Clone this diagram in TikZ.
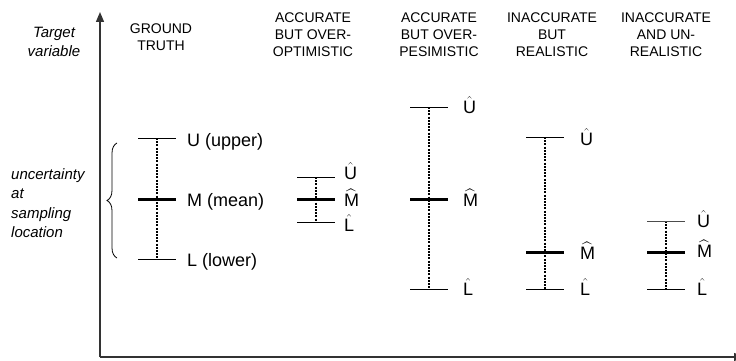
\documentclass[tikz,border=0pt]{standalone}
\usepackage{amsmath}
\usepackage{fontspec}
\setmainfont{Liberation Sans}
\usetikzlibrary{arrows.meta,positioning,decorations.pathreplacing}

\begin{document}
\begin{tikzpicture}[x=1pt,y=-1pt,
  axis/.style={line width=1.4pt,black!80,-{Triangle[length=10pt,width=8pt]}},
  limbar/.style={line width=1pt},
  meanbar/.style={line width=3pt},
  whisker/.style={line width=1.1pt,dash pattern=on 2pt off 1.2pt},
  head/.style={font=\fontsize{14}{17}\selectfont,align=center,inner sep=0pt,anchor=north},
  lab/.style={font=\fontsize{18}{21}\selectfont,inner sep=0pt,anchor=base west},
  note/.style={font=\fontsize{15}{19.5}\selectfont\itshape,inner sep=0pt,anchor=north}
]
\useasboundingbox (0,0) rectangle (736,361);

%--- axes ---
\coordinate (origin) at (100,357);
\coordinate (ytip) at (100,12);
\coordinate (xtip) at (744,357);
\draw[axis] (origin) -- (ytip);
\draw[axis] (origin) -- (xtip);
\node[note,align=center] (tv) at (54,26.5) {Target\\variable};
\node[note,align=left,anchor=north west] (unc) at (11,168) {uncertainty\\at\\sampling\\location};
\draw[line width=0.8pt,decorate,decoration={brace,amplitude=10pt}] (117,258) -- (117,143);

%--- headings ---
\node[head] (hgt)  at (161,24) {GROUND\\TRUTH};
\node[head] (hopt) at (313,12.5) {ACCURATE\\BUT OVER-\\OPTIMISTIC};
\node[head] (hpes) at (439,12.5) {ACCURATE\\BUT OVER-\\PESIMISTIC};
\node[head] (hrea) at (552,12.5) {INACCURATE\\BUT\\REALISTIC};
\node[head] (hunr) at (666,12.5) {INACCURATE\\AND UN-\\REALISTIC};

%--- ground truth ---
\begin{scope}[shift={(157,0)}]
  \coordinate (gtU) at (0,138);
  \coordinate (gtM) at (0,199);
  \coordinate (gtL) at (0,259);
  \draw[whisker] (gtU) -- (gtL);
  \draw[limbar] ([xshift=-19pt]gtU) -- ([xshift=19pt]gtU);
  \draw[meanbar] ([xshift=-19pt]gtM) -- ([xshift=19pt]gtM);
  \draw[limbar] ([xshift=-19pt]gtL) -- ([xshift=19pt]gtL);
  \node[lab] (gtu) at (30,146.5) {U (upper)};
  \node[lab] (gtm) at (30,206) {M (mean)};
  \node[lab] (gtl) at (30,266) {L (lower)};
\end{scope}

%--- accurate but over-optimistic ---
\begin{scope}[shift={(316,0)}]
  \coordinate (opU) at (0,177);
  \coordinate (opM) at (0,199);
  \coordinate (opL) at (0,222);
  \draw[whisker] (opU) -- (opL);
  \draw[limbar] ([xshift=-19pt]opU) -- ([xshift=19pt]opU);
  \draw[meanbar] ([xshift=-19pt]opM) -- ([xshift=19pt]opM);
  \draw[limbar] ([xshift=-19pt]opL) -- ([xshift=19pt]opL);
  \node[lab] (opu) at (28,179) {$\hat{\text{U}}$};
  \node[lab] (opm) at (28,206) {$\widehat{\text{M}}$};
  \node[lab] (opl) at (28,231.5) {$\hat{\text{L}}$};
\end{scope}

%--- accurate but over-pesimistic ---
\begin{scope}[shift={(429,0)}]
  \coordinate (peU) at (0,107);
  \coordinate (peM) at (0,199);
  \coordinate (peL) at (0,289);
  \draw[whisker] (peU) -- (peL);
  \draw[limbar] ([xshift=-19pt]peU) -- ([xshift=19pt]peU);
  \draw[meanbar] ([xshift=-19pt]peM) -- ([xshift=19pt]peM);
  \draw[limbar] ([xshift=-19pt]peL) -- ([xshift=19pt]peL);
  \node[lab] (peu) at (34,113) {$\hat{\text{U}}$};
  \node[lab] (pem) at (34,206) {$\widehat{\text{M}}$};
  \node[lab] (pel) at (34,295) {$\hat{\text{L}}$};
\end{scope}

%--- inaccurate but realistic ---
\begin{scope}[shift={(545,0)}]
  \coordinate (reU) at (0,137);
  \coordinate (reM) at (0,252);
  \coordinate (reL) at (0,289);
  \draw[whisker] (reU) -- (reL);
  \draw[limbar] ([xshift=-19pt]reU) -- ([xshift=19pt]reU);
  \draw[meanbar] ([xshift=-19pt]reM) -- ([xshift=19pt]reM);
  \draw[limbar] ([xshift=-19pt]reL) -- ([xshift=19pt]reL);
  \node[lab] (reu) at (35,145) {$\hat{\text{U}}$};
  \node[lab] (rem) at (35,259) {$\widehat{\text{M}}$};
  \node[lab] (rel) at (35,295) {$\hat{\text{L}}$};
\end{scope}

%--- inaccurate and unrealistic ---
\begin{scope}[shift={(666,0)}]
  \coordinate (unU) at (0,221);
  \coordinate (unM) at (0,252);
  \coordinate (unL) at (0,289);
  \draw[whisker] (unU) -- (unL);
  \draw[limbar,black!70] ([xshift=-19pt]unU) -- ([xshift=19pt]unU);
  \draw[meanbar] ([xshift=-19pt]unM) -- ([xshift=19pt]unM);
  \draw[limbar] ([xshift=-19pt]unL) -- ([xshift=19pt]unL);
  \node[lab] (unu) at (31,227) {$\hat{\text{U}}$};
  \node[lab] (unm) at (31,257) {$\widehat{\text{M}}$};
  \node[lab] (unl) at (31,295) {$\hat{\text{L}}$};
\end{scope}
\end{tikzpicture}
\end{document}
